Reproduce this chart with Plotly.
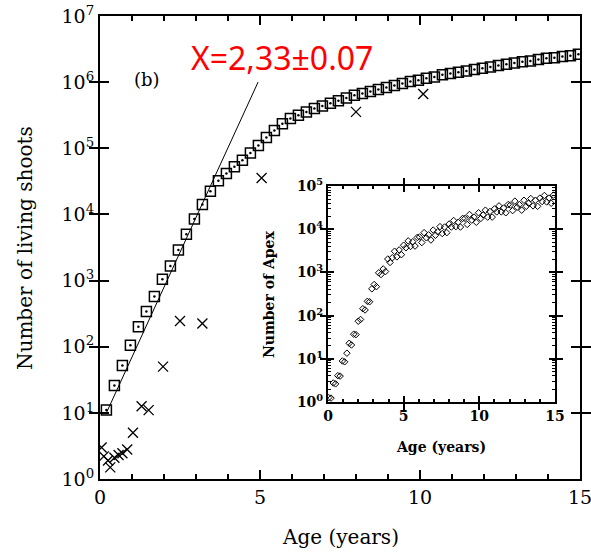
import plotly.graph_objects as go

# ---- main panel: simulated number of living shoots (squares) ----
shoot_age = [0.20, 0.45, 0.70, 0.95, 1.20, 1.45, 1.70, 1.95, 2.20, 2.45,
             2.70, 2.95, 3.20, 3.45, 3.70, 3.95, 4.20, 4.45, 4.70, 4.95,
             5.20, 5.45, 5.70, 5.95, 6.20, 6.45, 6.70, 6.95, 7.20, 7.45,
             7.70, 7.95, 8.20, 8.45, 8.70, 8.95, 9.20, 9.45, 9.70, 9.95,
             10.20, 10.45, 10.70, 10.95, 11.20, 11.45, 11.70, 11.95, 12.20, 12.45,
             12.70, 12.95, 13.20, 13.45, 13.70, 13.95, 14.20, 14.45, 14.70, 14.95]
shoot_count = [11, 26, 52, 105, 200, 340, 575, 1050, 1660, 2900,
               5000, 8500, 14100, 22400, 32400, 41700, 52500, 66100, 85100, 110000,
               145000, 186000, 234000, 282000, 316000, 355000, 398000, 437000, 479000, 525000,
               575000, 631000, 676000, 724000, 776000, 832000, 891000, 955000, 1020000, 1070000,
               1150000, 1200000, 1290000, 1350000, 1410000, 1480000, 1550000, 1620000, 1700000, 1780000,
               1860000, 1950000, 2040000, 2090000, 2190000, 2290000, 2340000, 2450000, 2510000, 2630000]

# ---- main panel: field observations (crosses) ----
field_age = [0.05, 0.12, 0.25, 0.32, 0.45, 0.58, 0.70, 0.85, 1.03, 1.30,
             1.52, 1.97, 2.50, 3.20, 5.05, 8.00, 10.10]
field_count = [3.0, 2.2, 1.9, 1.5, 2.1, 2.3, 2.45, 2.8, 5.0, 12.6,
               11, 50, 245, 224, 35500, 355000, 660000]

# ---- exponential fit of the early growth phase ----
fit_age = [0.20, 4.94]
fit_n0 = 10.0          # shoots at the start of the fit
fit_rate = 1.055       # decades per year
fit_count = [fit_n0 * 10 ** (fit_rate * (a - fit_age[0])) for a in fit_age]

# ---- inset: number of apex per simulated plant ----
apex_age = [0.05, 0.2, 0.35, 0.5, 0.65, 0.8, 0.95, 1.1, 1.25, 1.4,
            1.55, 1.7, 1.85, 2.0, 2.15, 2.3, 2.45, 2.6, 2.75, 2.9,
            3.05, 3.2, 3.35, 3.5, 3.65, 3.8, 3.95, 4.1, 4.25, 4.4,
            4.55, 4.7, 4.85, 5.0, 5.15, 5.3, 5.45, 5.6, 5.75, 5.9,
            6.05, 6.2, 6.35, 6.5, 6.65, 6.8, 6.95, 7.1, 7.25, 7.4,
            7.55, 7.7, 7.85, 8.0, 8.15, 8.3, 8.45, 8.6, 8.75, 8.9,
            9.05, 9.2, 9.35, 9.5, 9.65, 9.8, 9.95, 10.1, 10.25, 10.4,
            10.55, 10.7, 10.85, 11.0, 11.15, 11.3, 11.45, 11.6, 11.75, 11.9,
            12.05, 12.2, 12.35, 12.5, 12.65, 12.8, 12.95, 13.1, 13.25, 13.4,
            13.55, 13.7, 13.85, 14.0, 14.15, 14.3, 14.45, 14.6, 14.75, 14.9]
apex_log10 = [0.10, 0.09, 0.44, 0.42, 0.61, 0.60, 0.95, 0.93, 1.13, 1.36,
              1.32, 1.57, 1.56, 1.87, 1.91, 2.16, 2.13, 2.33, 2.32, 2.62,
              2.72, 2.67, 2.99, 2.95, 3.08, 3.02, 3.31, 3.23, 3.34, 3.49,
              3.36, 3.52, 3.41, 3.63, 3.57, 3.73, 3.60, 3.71, 3.61, 3.81,
              3.82, 3.69, 3.92, 3.80, 3.87, 3.75, 3.98, 3.86, 3.94, 4.06,
              3.90, 4.05, 3.92, 4.12, 4.05, 4.20, 4.06, 4.16, 4.05, 4.25,
              4.25, 4.11, 4.34, 4.21, 4.28, 4.16, 4.38, 4.25, 4.33, 4.44,
              4.28, 4.41, 4.28, 4.47, 4.40, 4.54, 4.40, 4.49, 4.38, 4.57,
              4.56, 4.43, 4.65, 4.51, 4.57, 4.44, 4.67, 4.53, 4.60, 4.71,
              4.54, 4.67, 4.53, 4.72, 4.64, 4.78, 4.63, 4.72, 4.60, 4.79]
apex_count = [10 ** v for v in apex_log10]

age_ticks = [0, 5, 10, 15]
age_minor = [1, 2, 3, 4, 6, 7, 8, 9, 11, 12, 13, 14]
main_exponents = [0, 1, 2, 3, 4, 5, 6, 7]
inset_exponents = [0, 1, 2, 3, 4, 5]

W, H = 591, 553
serif = "DejaVu Serif"


def px_x(p):
    return p / W


def px_y(p):
    return 1 - p / H


fig = go.Figure()

fig.add_trace(go.Scatter(
    x=fit_age, y=fit_count, mode="lines",
    line=dict(color="black", width=1), xaxis="x", yaxis="y", showlegend=False))
fig.add_trace(go.Scatter(
    x=shoot_age, y=shoot_count, mode="markers",
    marker=dict(symbol="square-open", size=10, color="black", line=dict(width=1.5)),
    xaxis="x", yaxis="y", showlegend=False))
fig.add_trace(go.Scatter(
    x=shoot_age, y=shoot_count, mode="markers",
    marker=dict(symbol="circle", size=2.5, color="black"),
    xaxis="x", yaxis="y", showlegend=False))
fig.add_trace(go.Scatter(
    x=field_age, y=field_count, mode="markers",
    marker=dict(symbol="x-thin", size=10, color="black", line=dict(width=1.3, color="black")),
    xaxis="x", yaxis="y", showlegend=False))
fig.add_trace(go.Scatter(
    x=apex_age, y=apex_count, mode="markers",
    marker=dict(symbol="diamond-open", size=5, color="black", line=dict(width=1)),
    xaxis="x2", yaxis="y2", showlegend=False))

# empty traces so the overlaid minor-tick axes get drawn
for xa, ya in (("x3", "y"), ("x5", "y2"), ("x2", "y3")):
    fig.add_trace(go.Scatter(x=[None], y=[None], mode="markers", xaxis=xa, yaxis=ya,
                             showlegend=False, hoverinfo="skip"))

# common styling for the boxed axes
box = dict(showline=True, linecolor="black", linewidth=2, mirror="allticks",
           ticks="inside", tickcolor="black", showgrid=False, zeroline=False,
           automargin=False)
# helper axes that only carry the shorter minor ticks
bare = dict(showline=False, showgrid=False, zeroline=False, automargin=False,
            showticklabels=False, ticks="inside", tickcolor="black", mirror="ticks")

fig.update_layout(
    width=W, height=H, autosize=False,
    margin=dict(l=0, r=0, t=0, b=0, pad=0),
    paper_bgcolor="white", plot_bgcolor="white",
    # main panel
    xaxis=dict(box, domain=[px_x(100), px_x(580)], range=[0, 15], anchor="y",
               tickmode="array", tickvals=age_ticks, ticklen=9, tickwidth=1.5,
               ticklabeloverflow="allow",
               tickfont=dict(family=serif, size=19, color="black")),
    xaxis3=dict(bare, overlaying="x", range=[0, 15], anchor="y",
                tickmode="array", tickvals=age_minor, ticklen=5, tickwidth=1.5),
    yaxis=dict(box, type="log", domain=[px_y(479), px_y(16)], range=[0, 7], anchor="x",
               tickmode="array", tickvals=[10 ** e for e in main_exponents],
               ticktext=[f"10<sup>{e}</sup>" for e in main_exponents],
               ticklen=9, tickwidth=1.5, ticklabeloverflow="allow",
               tickfont=dict(family=serif, size=19, color="black")),
    # inset panel
    xaxis2=dict(box, domain=[px_x(328), px_x(555)], range=[0, 15], anchor="y2",
                tickmode="array", tickvals=age_ticks,
                ticktext=[f"<b>{t}</b>" for t in age_ticks], ticklen=6, tickwidth=1.5,
                tickfont=dict(family=serif, size=14, color="black")),
    xaxis5=dict(bare, overlaying="x2", range=[0, 15], anchor="y2",
                tickmode="array", tickvals=age_minor, ticklen=3, tickwidth=1.5),
    yaxis2=dict(box, type="log", domain=[px_y(402), px_y(186)], range=[0, 5], anchor="x2",
                tickmode="array", tickvals=[10 ** e for e in inset_exponents],
                ticktext=[f"<b>10<sup>{e}</sup></b>" for e in inset_exponents],
                ticklen=6, tickwidth=1.5,
                tickfont=dict(family=serif, size=14, color="black")),
    yaxis3=dict(bare, type="log", overlaying="y2", range=[0, 5], anchor="x2",
                tickmode="array",
                tickvals=[m * 10 ** e for e in inset_exponents[:-1] for m in range(2, 10)],
                ticklen=3, tickwidth=1),
)

annotations = [
    dict(text="Age (years)", x=px_x(340), y=px_y(537)),
    dict(text="Number of living shoots", x=px_x(25), y=px_y(248), textangle=-90),
    dict(text="(b)", x=px_x(147), y=px_y(80), font=dict(family=serif, size=18, color="black")),
    dict(text="X=2,33±0.07", x=px_x(282), y=px_y(58),
         font=dict(family="Noto Sans", size=32, color="#ff0000")),
    dict(text="<b>Age (years)</b>", x=px_x(441), y=px_y(447),
         font=dict(family=serif, size=14, color="black")),
    dict(text="<b>Number of Apex</b>", x=px_x(269), y=px_y(294), textangle=-90,
         font=dict(family=serif, size=14, color="black")),
]
for a in annotations:
    a.setdefault("font", dict(family=serif, size=20, color="black"))
    a.update(xref="paper", yref="paper", xanchor="center", yanchor="middle", showarrow=False)
fig.update_layout(annotations=annotations)

fig.write_html("out.html")
